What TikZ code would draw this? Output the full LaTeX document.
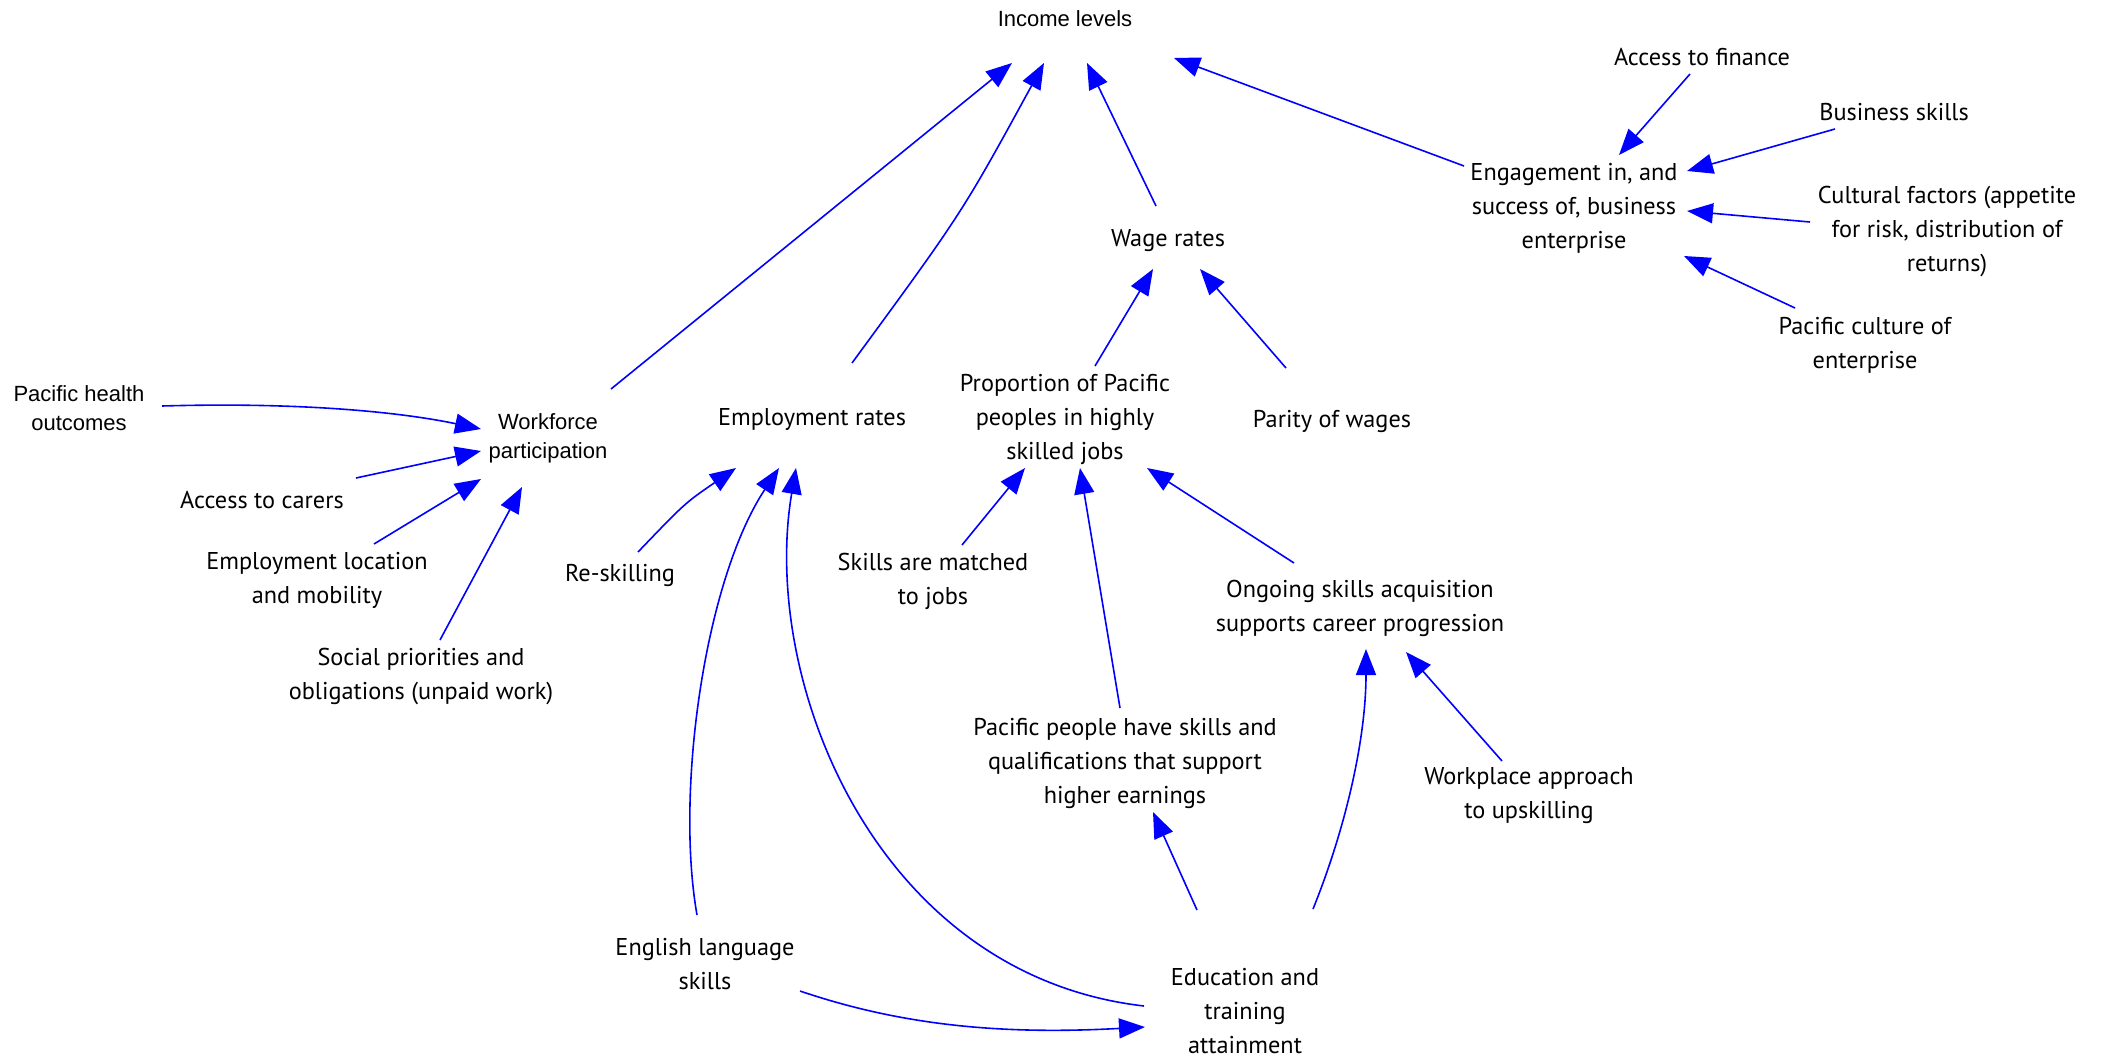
\documentclass[tikz,border=0pt]{standalone}
\usepackage{fontspec}
\setmainfont{PT Sans}
\newfontfamily\arialf{Liberation Sans}
\usetikzlibrary{arrows.meta}
\definecolor{lnblue}{RGB}{0,0,255}
\begin{document}
\begin{tikzpicture}[x=1pt,y=-1pt,
  lbl/.style={align=center, inner sep=0pt, yshift=-3pt, font=\fontsize{24.3}{34}\selectfont},
  lbla/.style={align=center, inner sep=0pt, font=\arialf\fontsize{22}{29}\selectfont},
  arr/.style={draw=lnblue, line width=1.6pt, -{Triangle[length=26pt,width=20pt]}}]
\fill[white] (0,0) rectangle (2107,1060);
\useasboundingbox (0,0) rectangle (2107,1060);
% nodes
\node[lbla] (inc) at (1065,19) {Income levels};
\node[lbla] (wf) at (548,438) {Workforce\\participation};
\node[lbla] (ph) at (79,408) {Pacific health\\outcomes};
\node[lbl] (ac) at (262,497) {Access to carers};
\node[lbl] (el) at (317,577) {Employment location\\and mobility};
\node[lbl] (sp) at (421,674) {Social priorities and\\obligations (unpaid work)};
\node[lbl] (er) at (812,416) {Employment rates};
\node[lbl] (rs) at (620,572) {Re-skilling};
\node[lbl] (es) at (705,961) {English language\\skills};
\node[lbl] (wr) at (1168,238) {Wage rates};
\node[lbl] (pr) at (1065,416) {Proportion of Pacific\\peoples in highly\\skilled jobs};
\node[lbl] (pw) at (1332,418) {Parity of wages};
\node[lbl] (sm) at (933,578) {Skills are matched\\to jobs};
\node[lbl] (pp) at (1125,760) {Pacific people have skills and\\qualifications that support\\higher earnings};
\node[lbl] (og) at (1360,605) {Ongoing skills acquisition\\supports career progression};
\node[lbl] (wa) at (1529,793) {Workplace approach\\to upskilling};
\node[lbl, yshift=5pt] (ed) at (1245,1013) {Education and\\training\\attainment};
\node[lbl] (en) at (1574,205) {Engagement in, and\\success of, business\\enterprise};
\node[lbl] (af) at (1702,54) {Access to finance};
\node[lbl] (bs) at (1894,109) {Business skills};
\node[lbl] (cf) at (1947,229) {Cultural factors (appetite\\for risk, distribution of\\returns)};
\node[lbl] (pc) at (1865,342) {Pacific culture of\\enterprise};
% connectors (offsets are from the node centres)
\draw[arr] ([shift={(83,-2)}]ph.center) .. controls (300,402) and (400,412) .. ([shift={(-67,-9)}]wf.center);
\draw[arr] ([shift={(94,-22)}]ac.center) -- ([shift={(-67,13)}]wf.center);
\draw[arr] ([shift={(57,-36)}]el.center) -- ([shift={(-67,41)}]wf.center);
\draw[arr] ([shift={(19,-37)}]sp.center) -- ([shift={(-26,49)}]wf.center);
\draw[arr] ([shift={(63,-49)}]wf.center) -- ([shift={(-53,44)}]inc.center);
\draw[arr] ([shift={(40,-56)}]er.center) .. controls (962,213) .. ([shift={(-21,44)}]inc.center);
\draw[arr] ([shift={(-12,-35)}]wr.center) -- ([shift={(22,44)}]inc.center);
\draw[arr] ([shift={(-110,-42)}]en.center) -- ([shift={(109,39)}]inc.center);
\draw[arr] ([shift={(30,-53)}]pr.center) -- ([shift={(-15,28)}]wr.center);
\draw[arr] ([shift={(-46,-53)}]pw.center) -- ([shift={(32,28)}]wr.center);
\draw[arr] ([shift={(-12,17)}]af.center) -- ([shift={(45,-53)}]en.center);
\draw[arr] ([shift={(-59,17)}]bs.center) -- ([shift={(113,-37)}]en.center);
\draw[arr] ([shift={(-137,-10)}]cf.center) -- ([shift={(113,3)}]en.center);
\draw[arr] ([shift={(-70,-37)}]pc.center) -- ([shift={(110,48)}]en.center);
\draw[arr] ([shift={(18,-23)}]rs.center) .. controls (685,503) .. ([shift={(-76,49)}]er.center);
\draw[arr] ([shift={(-8,-49)}]es.center) .. controls (675,790) and (705,580) .. ([shift={(-33,49)}]er.center);
\draw[arr] ([shift={(-101,-5)}]ed.center) .. controls (875,975) and (760,680) .. ([shift={(-16,49)}]er.center);
\draw[arr] ([shift={(-5,-55)}]pp.center) -- ([shift={(15,49)}]pr.center);
\draw[arr] ([shift={(-66,-45)}]og.center) -- ([shift={(82,49)}]pr.center);
\draw[arr] ([shift={(29,-36)}]sm.center) -- ([shift={(-40,49)}]pr.center);
\draw[arr] ([shift={(-48,-101)}]ed.center) -- ([shift={(28,49)}]pp.center);
\draw[arr] ([shift={(68,-102)}]ed.center) .. controls (1345,830) and (1366,740) .. ([shift={(6,41)}]og.center);
\draw[arr] ([shift={(-27,-35)}]wa.center) -- ([shift={(46,44)}]og.center);
\draw[arr] ([shift={(95,27)}]es.center) .. controls (900,1025) and (1000,1035) .. ([shift={(-100,16)}]ed.center);
\end{tikzpicture}
\end{document}
